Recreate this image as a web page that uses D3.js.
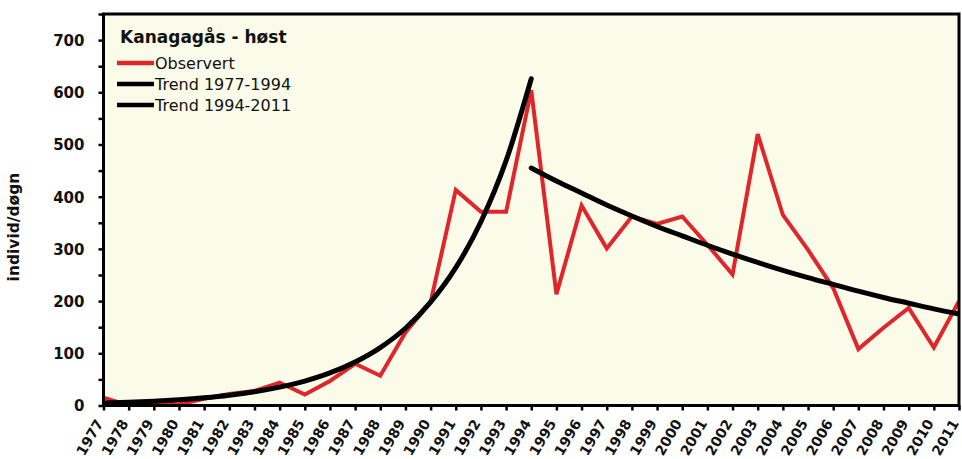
<!DOCTYPE html>
<html>
<head>
<meta charset="utf-8">
<script src="https://cdn.jsdelivr.net/npm/d3@7"></script>
<style>
  html, body { margin: 0; padding: 0; background: #ffffff; }
  svg { display: block; }
</style>
</head>
<body>
<svg id="chart" width="962" height="459"></svg>
<script>
// ---- data ----
const years = d3.range(1977, 2012);
const observed = [15, 0, 6, 2, 13, 22, 28, 44, 21, 47, 80, 57, 140, 198, 413, 371, 371, 604,
                  213, 383, 301, 362, 348, 362, 308, 251, 520, 365, 298, 225, 108, 149, 187, 111, 200];
const trend1Years = d3.range(1977, 1995);
const trend1 = [4.7, 6.2, 8.3, 11.1, 14.8, 19.7, 26.3, 35.1, 46.8, 62.4, 83.3, 111, 148, 198, 264, 352, 469, 626];
const trend2Years = d3.range(1994, 2012);
const trend2 = [455, 430, 407, 384, 363, 343, 325, 307, 290, 274, 259, 245, 232, 219, 207, 196, 185, 175];
const yTicks = [0, 100, 200, 300, 400, 500, 600, 700];
const yMinorTicks = d3.range(0, 751, 50);
const legendTitle = "Kanagagås - høst";
const legendItems = [
  { label: "Observert", color: "#e0262a" },
  { label: "Trend 1977-1994", color: "#000000" },
  { label: "Trend 1994-2011", color: "#000000" }
];
const yLabel = "individ/døgn";

// ---- layout ----
const svg = d3.select("#chart");
const L = 103.5, R = 959, T = 14, B = 405.5;
const x = d3.scaleLinear().domain([1977, 2011]).range([L, R]);
const y = d3.scaleLinear().domain([0, 750]).range([B, T]);

// plot background
svg.append("rect").attr("x", L).attr("y", T).attr("width", R - L).attr("height", B - T)
  .attr("fill", "#fbfbe9");

// clip
svg.append("clipPath").attr("id", "clip").append("rect")
  .attr("x", L).attr("y", T - 20).attr("width", R - L).attr("height", B - T + 20);

const line = d3.line().x(d => x(d[0])).y(d => y(d[1]));
const smooth = d3.line().x(d => x(d[0])).y(d => y(d[1])).curve(d3.curveMonotoneX);

const g = svg.append("g").attr("clip-path", "url(#clip)");
g.append("path").datum(years.map((yr, i) => [yr, observed[i]]))
  .attr("d", line).attr("fill", "none").attr("stroke", "#e0262a")
  .attr("stroke-width", 4).attr("stroke-linejoin", "miter");
g.append("path").datum(trend1Years.map((yr, i) => [yr, trend1[i]]))
  .attr("d", smooth).attr("fill", "none").attr("stroke", "#000")
  .attr("stroke-width", 5).attr("stroke-linecap", "round");
g.append("path").datum(trend2Years.map((yr, i) => [yr, trend2[i]]))
  .attr("d", smooth).attr("fill", "none").attr("stroke", "#000")
  .attr("stroke-width", 5).attr("stroke-linecap", "round");

// frame
svg.append("rect").attr("x", L).attr("y", T).attr("width", R - L).attr("height", B - T)
  .attr("fill", "none").attr("stroke", "#000").attr("stroke-width", 3);

// y axis
const yAxisMinor = d3.axisLeft(y).tickValues(yMinorTicks).tickSize(5).tickFormat("");
const ya = svg.append("g").attr("transform", `translate(${L},0)`).call(yAxisMinor);
ya.select(".domain").remove();
ya.selectAll("line").attr("stroke-width", 2.5);
const yAxisMajor = d3.axisLeft(y).tickValues(yTicks).tickSize(0).tickPadding(19);
const yb = svg.append("g").attr("transform", `translate(${L},0)`).call(yAxisMajor);
yb.select(".domain").remove();
yb.selectAll("text").attr("font-family", "DejaVu Sans").attr("font-weight", "bold")
  .attr("font-size", 15).attr("fill", "#111").attr("dy", "0.36em");

// x axis
const xAxis = d3.axisBottom(x).tickValues(years).tickSize(5).tickFormat(d3.format("d")).tickPadding(4);
const xa = svg.append("g").attr("transform", `translate(0,${B})`).call(xAxis);
xa.select(".domain").remove();
xa.selectAll("line").attr("stroke-width", 2.5);
xa.selectAll("text")
  .attr("font-family", "DejaVu Sans").attr("font-weight", "bold").attr("font-size", 14)
  .attr("fill", "#111")
  .attr("text-anchor", "end")
  .attr("dy", "0.35em")
  .attr("transform", "translate(-4.5,15) rotate(-60)")
  .attr("y", 0).attr("x", 0);

// y label
svg.append("text").attr("transform", "translate(19,227) rotate(-90)")
  .attr("text-anchor", "middle").attr("font-family", "DejaVu Sans").attr("font-weight", "bold")
  .attr("font-size", 15.5).attr("fill", "#111").text(yLabel);

// legend
const lg = svg.append("g");
lg.append("text").attr("x", 120).attr("y", 43).attr("font-family", "DejaVu Sans")
  .attr("font-weight", "bold").attr("font-size", 17).attr("fill", "#111").text(legendTitle);
legendItems.forEach((it, i) => {
  const yy = 63 + i * 21;
  lg.append("line").attr("x1", 117).attr("x2", 154).attr("y1", yy).attr("y2", yy)
    .attr("stroke", it.color).attr("stroke-width", 4.5);
  lg.append("text").attr("x", 155).attr("y", yy).attr("dy", "0.36em")
    .attr("font-family", "DejaVu Sans").attr("font-size", 16).attr("fill", "#111").text(it.label);
});
</script>
</body>
</html>
